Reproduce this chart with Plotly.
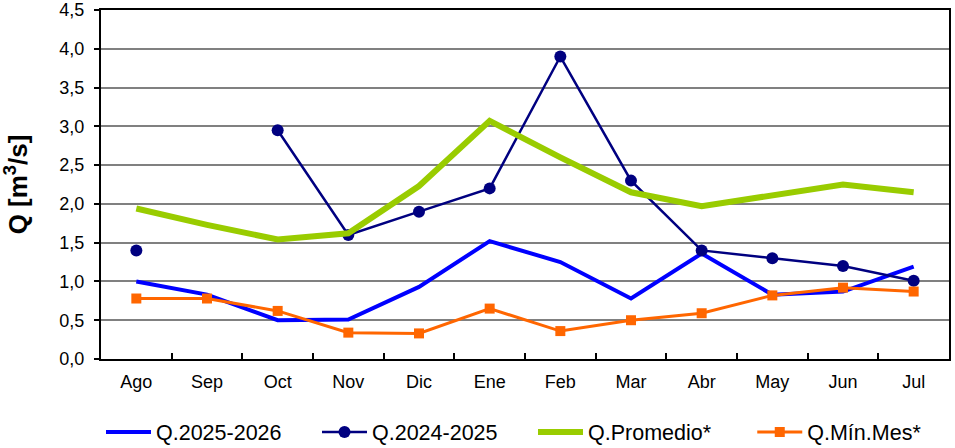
import plotly.graph_objects as go

# monthly flows, hydrological year Aug-Jul
meses = ['Ago', 'Sep', 'Oct', 'Nov', 'Dic', 'Ene', 'Feb', 'Mar', 'Abr', 'May', 'Jun', 'Jul']

q_2025_2026 = [1.00, 0.83, 0.50, 0.51, 0.93, 1.52, 1.25, 0.78, 1.36, 0.83, 0.87, 1.19]
q_2024_2025 = [1.40, None, 2.95, 1.60, 1.90, 2.20, 3.90, 2.30, 1.40, 1.30, 1.20, 1.01]
q_promedio = [1.94, 1.73, 1.54, 1.62, 2.23, 3.07, 2.60, 2.15, 1.97, 2.11, 2.25, 2.15]
q_min_mes = [0.78, 0.78, 0.62, 0.34, 0.33, 0.65, 0.36, 0.50, 0.59, 0.82, 0.92, 0.87]

y_ticks = [0, 0.5, 1, 1.5, 2, 2.5, 3, 3.5, 4, 4.5]

FONT = 'Liberation Sans, Arial, sans-serif'

fig = go.Figure()

fig.add_trace(go.Scatter(x=meses, y=q_2025_2026, name='Q.2025-2026', mode='lines',
                         line=dict(color='#0000FF', width=4)))
fig.add_trace(go.Scatter(x=meses, y=q_2024_2025, name='Q.2024-2025', mode='lines+markers',
                         line=dict(color='#000080', width=2.5),
                         marker=dict(symbol='circle', size=12, color='#000080'),
                         connectgaps=False))
fig.add_trace(go.Scatter(x=meses, y=q_promedio, name='Q.Promedio*', mode='lines',
                         line=dict(color='#99CC00', width=6)))
# last entry goes in a second legend so the row does not wrap
fig.add_trace(go.Scatter(x=meses, y=q_min_mes, name='Q.Mín.Mes*', mode='lines+markers',
                         line=dict(color='#FF6600', width=3),
                         marker=dict(symbol='square', size=10, color='#FF6600'),
                         legend='legend2'))

legend_common = dict(orientation='h', xanchor='left', y=-0.209, yanchor='middle',
                     font=dict(size=21.5), itemwidth=45, tracegroupgap=0,
                     bgcolor='rgba(0,0,0,0)')

fig.update_layout(
    width=955, height=448,
    margin=dict(l=101, r=6, t=10, b=89, autoexpand=False),
    paper_bgcolor='white', plot_bgcolor='white',
    font=dict(family=FONT, size=18, color='black'),
    separators=',.',
    showlegend=True,
    legend=dict(x=0.0, entrywidth=156, entrywidthmode='pixels', **legend_common),
    legend2=dict(x=0.768, **legend_common),
)

fig.update_xaxes(
    type='category', range=[-0.5, len(meses) - 0.5],
    showgrid=False, automargin=False,
    showline=True, linecolor='black', linewidth=2, mirror=True,
    ticks='inside', tickson='boundaries', ticklen=6, tickwidth=2, tickcolor='black',
    tickfont=dict(size=18), ticklabelstandoff=5,
)

fig.update_yaxes(
    range=[0, 4.5], tickvals=y_ticks, tickformat='.1f', automargin=False,
    showgrid=True, gridcolor='#808080', gridwidth=1.5,
    showline=True, linecolor='black', linewidth=2, mirror=True,
    ticks='outside', ticklen=5, tickwidth=1.5, tickcolor='black',
    tickfont=dict(size=18), ticklabelstandoff=6,
    title=dict(text='<b>Q [m<sup>3</sup>/s]</b>', font=dict(size=26), standoff=32),
    zeroline=False,
)

# drop the default page margin so the figure sits at the window's corner
fig.write_html("out.html", config={'displayModeBar': False},
               post_script="document.body.style.margin='0';")
